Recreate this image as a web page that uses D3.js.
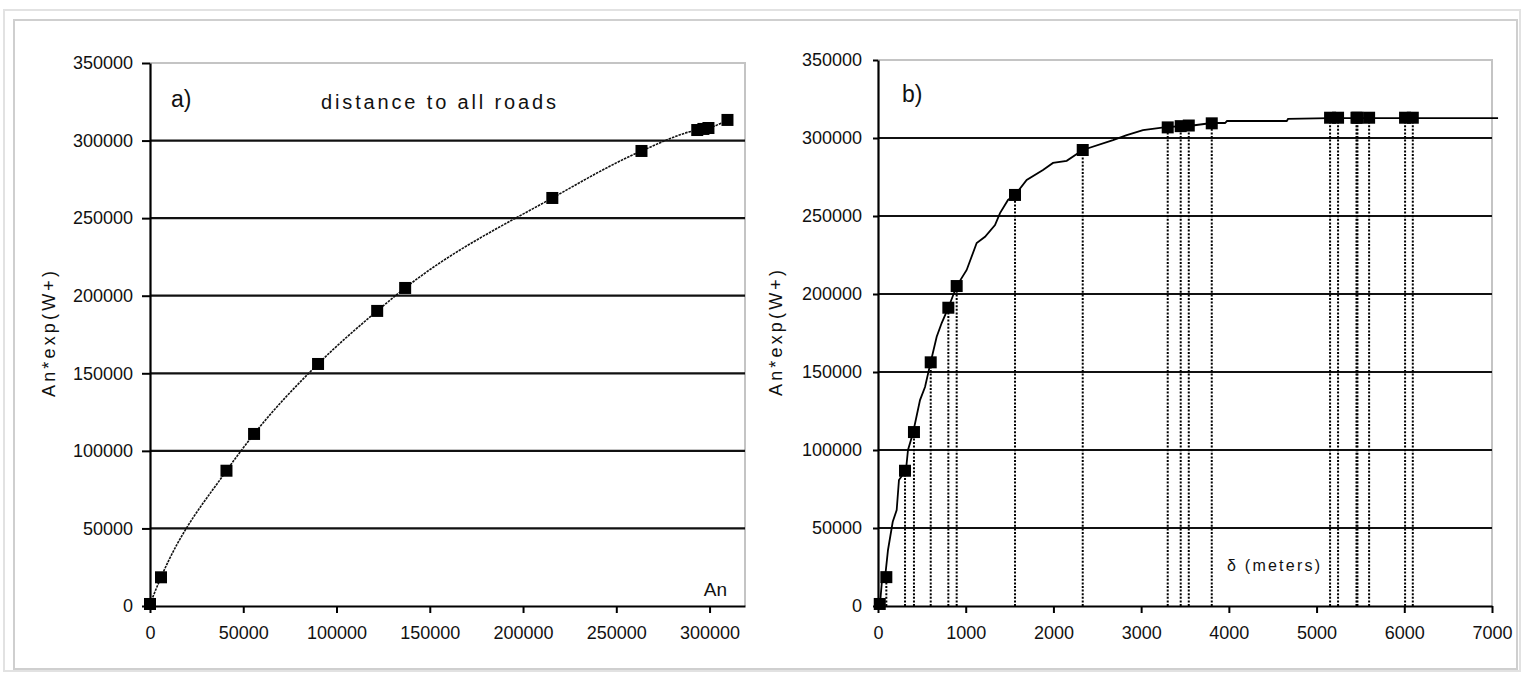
<!DOCTYPE html>
<html>
<head>
<meta charset="utf-8">
<script src="https://cdn.jsdelivr.net/npm/d3@7"></script>
<style>
	body { margin: 0; background: #fff; }
	text { font-family: "Liberation Sans", Arial, sans-serif; fill: #111; }
</style>
</head>
<body>
<script>
var SIZE = {
	width: 1522,
	height: 673
};

// panel a) : An vs An*exp(W+)
var leftAn = [0, 5900, 41000, 55800, 90100, 121800, 136800, 215700, 263500, 293400, 296700, 299400, 309600];
var leftY = [1300, 18500, 87200, 110900, 156000, 190200, 205000, 263000, 293300, 306800, 307500, 308100, 313300];
var leftXTicks = [0, 50000, 100000, 150000, 200000, 250000, 300000];

// panel b) : distance vs An*exp(W+)
var rightDist = [20, 95, 308, 410, 601, 802, 897, 1562, 2334, 3303, 3451, 3543, 3805, 5154, 5245, 5455, 5466, 5599, 6009, 6097];
var rightY = [1300, 18500, 86700, 111500, 156200, 191200, 205100, 263500, 292300, 306800, 307600, 308000, 309400, 313000, 313000, 313000, 313000, 313000, 313000, 313000];
var curveDist = [0, 23, 46, 80, 114, 168, 213, 239, 319, 342, 399, 479, 536, 601, 669, 726, 802, 897, 1011, 1125, 1220, 1334, 1391, 1482, 1562, 1695, 1881, 1995, 2151, 2334, 2679, 2836, 3021, 3303, 3543, 3805, 3956, 3979, 4660, 4675, 5154, 6097, 7069];
var curveY = [0, 1300, 16700, 18000, 35900, 54000, 61500, 80800, 87200, 100000, 110900, 132000, 140400, 156400, 172600, 181400, 191200, 205100, 215400, 232700, 236700, 244200, 251900, 260300, 263500, 273100, 279500, 284000, 285400, 292300, 298700, 301900, 305100, 307100, 307700, 309600, 309600, 310900, 310900, 312200, 312800, 312800, 312800];
var rightXTicks = [0, 1000, 2000, 3000, 4000, 5000, 6000, 7000];

var yTicks = [0, 50000, 100000, 150000, 200000, 250000, 300000, 350000];

var svg = d3.select('body')
	.append('svg')
	.attr('width', SIZE.width)
	.attr('height', SIZE.height);

svg.append('rect')
	.attr('width', SIZE.width)
	.attr('height', SIZE.height)
	.attr('fill', '#fff');

// window-like frame round the figure
svg.append('rect')
	.attr('x', 4).attr('y', 10)
	.attr('width', 1516).attr('height', 661)
	.attr('fill', 'none')
	.attr('stroke', '#e2e2e2')
	.attr('stroke-width', 2);
svg.append('rect')
	.attr('x', 14).attr('y', 20)
	.attr('width', 1503).attr('height', 649)
	.attr('fill', 'none')
	.attr('stroke', '#cfcfcf')
	.attr('stroke-width', 2);

drawPanel({
	box: { x0: 150, x1: 745, y0: 63, y1: 606 },
	xDomain: [0, 319000],
	xTicks: leftXTicks,
	yTickSize: 8,
	yPadding: 9,
	xTickSize: 7
}, function (p) {
	var line = d3.line()
		.x(function (d) { return p.x(d[0]); })
		.y(function (d) { return p.y(d[1]); })
		.curve(d3.curveMonotoneX);
	p.g.append('path')
		.datum(d3.zip(leftAn, leftY))
		.attr('d', line)
		.attr('fill', 'none')
		.attr('stroke', '#111')
		.attr('stroke-width', 1.6)
		.attr('stroke-dasharray', '2.5,1');
	drawMarkers(p, leftAn, leftY);

	p.g.append('text')
		.attr('x', 171).attr('y', 107)
		.attr('font-size', 23)
		.text('a)');
	p.g.append('text')
		.attr('x', 321).attr('y', 109)
		.attr('font-size', 20)
		.attr('textLength', 235)
		.attr('lengthAdjust', 'spacing')
		.text('distance to all roads');
	p.g.append('text')
		.attr('x', 727).attr('y', 596)
		.attr('text-anchor', 'end')
		.attr('font-size', 19)
		.text('An');
	yTitle(p, 49, 334);
});

drawPanel({
	box: { x0: 878, x1: 1492, y0: 60, y1: 606 },
	xDomain: [0, 7000],
	xTicks: rightXTicks,
	yTickSize: 5,
	yPadding: 11,
	xTickSize: 7
}, function (p) {
	// drop lines from each point to the axis
	p.g.append('g')
		.selectAll('line')
		.data(d3.zip(rightDist, rightY))
		.enter()
		.append('line')
		.attr('x1', function (d) { return p.x(d[0]); })
		.attr('x2', function (d) { return p.x(d[0]); })
		.attr('y1', p.y(0))
		.attr('y2', function (d) { return p.y(d[1]); })
		.attr('stroke', '#000')
		.attr('stroke-width', 2)
		.attr('stroke-dasharray', '2,1.6');

	var line = d3.line()
		.x(function (d) { return p.x(d[0]); })
		.y(function (d) { return p.y(d[1]); });
	p.g.append('path')
		.datum(d3.zip(curveDist, curveY))
		.attr('d', line)
		.attr('fill', 'none')
		.attr('stroke', '#000')
		.attr('stroke-width', 1.8);
	drawMarkers(p, rightDist, rightY);

	p.g.append('text')
		.attr('x', 902).attr('y', 102)
		.attr('font-size', 23)
		.text('b)');
	p.g.append('text')
		.attr('x', 1227).attr('y', 571)
		.attr('font-size', 16)
		.attr('textLength', 93)
		.attr('lengthAdjust', 'spacing')
		.text('δ (meters)');
	yTitle(p, 776, 333);
});

function drawPanel(cfg, drawContent) {
	var b = cfg.box;
	var x = d3.scaleLinear().domain(cfg.xDomain).range([b.x0, b.x1]);
	var y = d3.scaleLinear().domain([0, 350000]).range([b.y1, b.y0]);
	var g = svg.append('g');

	// plot area border (top and right are light)
	g.append('path')
		.attr('d', 'M' + b.x0 + ',' + b.y0 + 'H' + b.x1 + 'V' + b.y1)
		.attr('fill', 'none')
		.attr('stroke', '#c4c4c4')
		.attr('stroke-width', 2);

	g.append('g')
		.selectAll('line')
		.data(yTicks.filter(function (t) { return t > 0 && t < 350000; }))
		.enter()
		.append('line')
		.attr('x1', b.x0).attr('x2', b.x1)
		.attr('y1', function (t) { return y(t); })
		.attr('y2', function (t) { return y(t); })
		.attr('stroke', '#111')
		.attr('stroke-width', 2.2);

	var yAxis = g.append('g')
		.attr('transform', 'translate(' + b.x0 + ',0)')
		.call(d3.axisLeft(y)
			.tickValues(yTicks)
			.tickFormat(d3.format('d'))
			.tickSize(cfg.yTickSize)
			.tickSizeOuter(0)
			.tickPadding(cfg.yPadding));

	var xAxis = g.append('g')
		.attr('transform', 'translate(0,' + b.y1 + ')')
		.call(d3.axisBottom(x)
			.tickValues(cfg.xTicks)
			.tickFormat(d3.format('d'))
			.tickSize(cfg.xTickSize)
			.tickSizeOuter(0)
			.tickPadding(13));

	[yAxis, xAxis].forEach(function (a) {
		a.attr('font-family', null).attr('font-size', null);
		a.select('.domain').attr('stroke', '#000').attr('stroke-width', 2.2);
		a.selectAll('.tick line').attr('stroke', '#000').attr('stroke-width', 2);
		a.selectAll('.tick text').attr('font-size', 18).attr('fill', '#000');
	});

	drawContent({ g: g, x: x, y: y });
}

function drawMarkers(p, xs, ys) {
	var s = 12;
	p.g.append('g')
		.selectAll('rect')
		.data(d3.zip(xs, ys))
		.enter()
		.append('rect')
		.attr('x', function (d) { return p.x(d[0]) - s / 2; })
		.attr('y', function (d) { return p.y(d[1]) - s / 2; })
		.attr('width', s)
		.attr('height', s)
		.attr('fill', '#000');
}

function yTitle(p, cx, cy) {
	p.g.append('text')
		.attr('transform', 'translate(' + cx + ',' + cy + ') rotate(-90)')
		.attr('text-anchor', 'middle')
		.attr('dy', '0.35em')
		.attr('font-size', 18)
		.attr('textLength', 126)
		.attr('lengthAdjust', 'spacing')
		.text('An*exp(W+)');
}
</script>
</body>
</html>
